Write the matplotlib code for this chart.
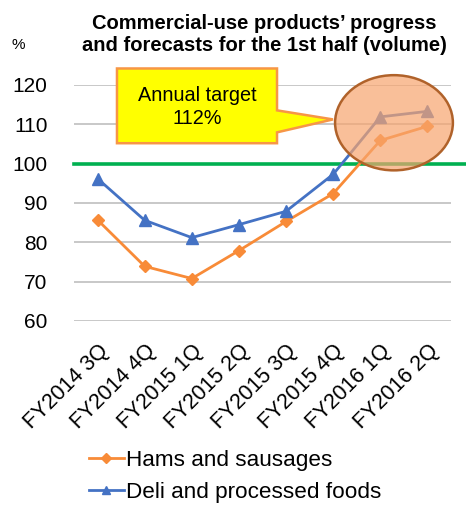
import matplotlib
matplotlib.use("Agg")
import matplotlib.pyplot as plt
from matplotlib.patches import Ellipse, Polygon

plt.rcParams['font.family'] = ['Liberation Sans', 'DejaVu Sans']

categories = ["FY2014 3Q", "FY2014 4Q", "FY2015 1Q", "FY2015 2Q",
              "FY2015 3Q", "FY2015 4Q", "FY2016 1Q", "FY2016 2Q"]
hams = [85.7, 73.9, 70.8, 77.9, 85.3, 92.4, 105.9, 109.5]
deli = [96.2, 85.6, 81.2, 84.5, 87.9, 97.3, 111.9, 113.3]
yticks = [60, 70, 80, 90, 100, 110, 120]
target_line = 100
title = "Commercial-use products\u2019 progress\nand forecasts for the 1st half (volume)"

W, H = 466, 508
fig = plt.figure(figsize=(W / 100, H / 100), dpi=100)
ax = fig.add_axes([74 / W, 1 - 321 / H, 377 / W, 236 / H])

x = list(range(len(categories)))
ax.set_xlim(-0.5, len(categories) - 0.5)
ax.set_ylim(60, 120)
ax.set_yticks(yticks)
ax.yaxis.grid(True, color='#BFBFBF', linewidth=1.2)
ax.set_axisbelow(True)
for s in ax.spines.values():
    s.set_visible(False)
ax.tick_params(length=0, labelsize=15)
ax.tick_params(axis='y', pad=19)
ax.tick_params(axis='x', pad=14)
ax.set_xticks(x)
ax.set_xticklabels(categories, rotation=45, ha='right', rotation_mode='anchor', fontsize=15.5)

ax.plot([-0.5, 7.85], [target_line, target_line], color='#00B050', linewidth=2.6,
        clip_on=False, zorder=2)

l1, = ax.plot(x, hams, color='#F88B38', marker='D', markersize=6, linewidth=2.0,
              label='Hams and sausages', zorder=3)
l2, = ax.plot(x, deli, color='#4472C4', marker='^', markersize=8, linewidth=2.0,
              label='Deli and processed foods', zorder=3)

# highlight ellipse
ell = Ellipse((6.29, 110.4), 2.50, 24.2, facecolor='#F7A56E', alpha=0.7,
              edgecolor='none', zorder=4, clip_on=False)
ax.add_patch(ell)
ell2 = Ellipse((6.29, 110.4), 2.50, 24.2, facecolor='none',
               edgecolor='#B0622A', linewidth=1.8, zorder=5, clip_on=False)
ax.add_patch(ell2)

# callout
poly = Polygon([(0.412, 124.2), (3.808, 124.2), (3.808, 113.55), (4.996, 111.25),
                (3.808, 107.96), (3.808, 105.2), (0.412, 105.2)],
               closed=True, facecolor='#FFFF00', edgecolor='#F79646', linewidth=1.8,
               zorder=6, clip_on=False)
ax.add_patch(poly)
ax.text(2.11, 114.4, "Annual target\n112%", ha='center', va='center', fontsize=14.3,
        zorder=7, linespacing=1.3)

fig.text(264 / W, 1 - 14 / H, title, ha='center', va='top', fontsize=14.5,
         fontweight='bold', linespacing=1.2)
fig.text(11 / W, 1 - 45 / H, "%", ha='left', va='center', fontsize=11)

fig.legend(handles=[l1, l2], loc='upper left', bbox_to_anchor=(89 / W, 1 - 450 / H),
           frameon=False, fontsize=16.2, handlelength=1.55, handletextpad=0.1,
           labelspacing=0.5, borderaxespad=0, borderpad=0, markerscale=0.8)

fig.savefig("out.png", dpi=100)
